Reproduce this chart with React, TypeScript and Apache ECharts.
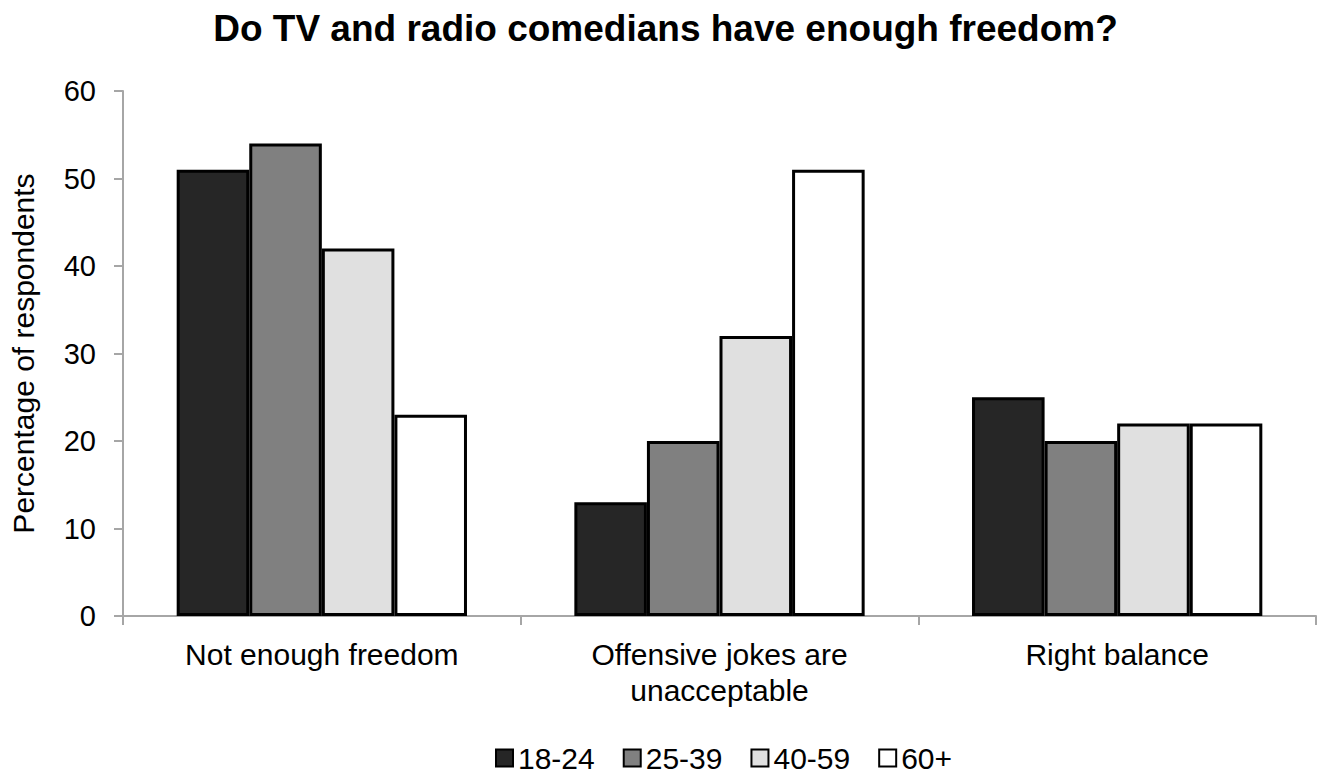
import React, { useEffect, useRef } from "react";
import * as echarts from "echarts";

const categories = ["Not enough freedom", "Offensive jokes are\nunacceptable", "Right balance"];
const seriesNames = ["18-24", "25-39", "40-59", "60+"];
const age18to24 = [51, 13, 25];
const age25to39 = [54, 20, 20];
const age40to59 = [42, 32, 22];
const age60plus = [23, 51, 22];
const seriesColors = ["#262626", "#808080", "#e0e0e0", "#ffffff"];

const FONT = "Liberation Sans, Arial, sans-serif";

export default function App() {
  const ref = useRef<HTMLDivElement>(null);
  useEffect(() => {
    if (!ref.current) return;
    const chart = echarts.init(ref.current, undefined, { renderer: "svg" });
    const values = [age18to24, age25to39, age40to59, age60plus];
    chart.setOption({
      animation: false,
      backgroundColor: "#ffffff",
      title: {
        text: "Do TV and radio comedians have enough freedom?",
        left: "center",
        top: 5,
        textStyle: { fontFamily: FONT, fontWeight: "bold", fontSize: 37, color: "#000" },
      },
      legend: {
        bottom: 6,
        left: 490,
        itemWidth: 17,
        itemHeight: 17,
        itemGap: 28,
        icon: "rect",
        textStyle: { fontFamily: FONT, fontSize: 30, color: "#000" },
        data: seriesNames,
      },
      grid: { left: 121, right: 15, top: 91, bottom: 168, containLabel: false },
      xAxis: {
        type: "category",
        data: categories,
        axisLine: { lineStyle: { color: "#a6a6a6", width: 2 } },
        axisTick: { show: true, length: 9, lineStyle: { color: "#a6a6a6", width: 2 } },
        axisLabel: {
          fontFamily: FONT,
          fontSize: 30,
          color: "#000",
          margin: 20,
          lineHeight: 36,
          interval: 0,
        },
      },
      yAxis: {
        type: "value",
        min: 0,
        max: 60,
        interval: 10,
        name: "Percentage of respondents",
        nameLocation: "middle",
        nameGap: 85,
        nameTextStyle: { fontFamily: FONT, fontSize: 30, color: "#000" },
        splitLine: { show: false },
        axisLine: { show: true, lineStyle: { color: "#a6a6a6", width: 2 } },
        axisTick: { show: true, length: 9, lineStyle: { color: "#a6a6a6", width: 2 } },
        axisLabel: { fontFamily: FONT, fontSize: 29, color: "#000", margin: 27 },
      },
      series: seriesNames.map((name, i) => ({
        name,
        type: "bar",
        data: values[i],
        barGap: "0%",
        barCategoryGap: "27%",
        itemStyle: { color: seriesColors[i], borderColor: "#000", borderWidth: 3 },
      })),
    });
    return () => chart.dispose();
  }, []);
  return (
    <div
      ref={ref}
      style={{ position: "fixed", left: 0, top: 0, width: 1331, height: 784 }}
    />
  );
}
